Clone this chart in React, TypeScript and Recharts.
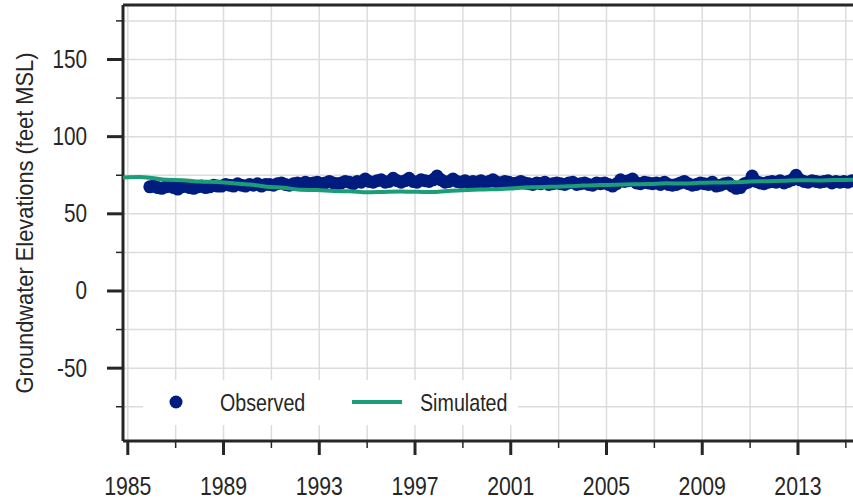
import { CartesianGrid, ComposedChart, Line, LineChart, ReferenceLine, XAxis, YAxis } from 'recharts'

const OBS_START = 1985.92
const OBS_STEP = 1 / 6

// observed heads, six readings per year from late 1985
const observedValues = [
  67.5, 68, 67, 66.5, 67.5, 68,
  67, 66, 67.5, 68, 67, 66.5,
  67.5, 68, 67, 67.5, 68.5, 68,
  68, 69, 68.5, 68, 69.5, 68.5,
  68, 69, 68.5, 69.5, 68, 69,
  69, 68.5, 69.5, 70, 69, 68.5,
  69.5, 70, 69, 70.5, 69.5, 70,
  70.5, 69.5, 70, 71, 70, 69.5,
  70, 71, 70.5, 69.5, 71, 70.5,
  72.5, 71, 70.5, 71.5, 72, 70.5,
  71, 73, 71.5, 70.5, 71.5, 73,
  71, 70.5, 72, 71.5, 71, 72,
  74.5, 72, 70.5, 71, 72.5, 71,
  70.5, 71.5, 70, 71, 70.5, 71.5,
  70, 71, 72, 70.5, 70, 71,
  70.5, 69.5, 70, 71, 70, 69.5,
  69, 70, 69.5, 70.5, 69, 69.5,
  70, 69.5, 69, 70, 70.5, 69,
  69.5, 70, 69, 68.5, 70, 69.5,
  70, 69, 68, 69.5, 72, 71,
  71.5, 72.5, 70, 69.5, 70.5, 70,
  69.5, 70, 69, 70.5, 69, 68.5,
  69, 70, 71, 69.5, 68.5, 69,
  70, 69.5, 69, 70.5, 68, 68.5,
  69.5, 70, 68, 66.5, 67, 69.5,
  70.5, 74.5, 71, 70, 69.5, 70.5,
  71, 70.5, 71.5, 70, 71, 72,
  75, 72, 71, 70.5, 71.5, 71,
  70.5, 71, 71.5, 70, 71, 70.5,
  71, 70.5, 71.5, 71, 70.5, 71,
]

const simulatedYears = [
  1984.8, 1985.5, 1986, 1986.6, 1987.3, 1988, 1988.7, 1989.4, 1990.1, 1990.8, 1991.5,
  1992.2, 1992.9, 1993.6, 1994.3, 1995, 1995.7, 1996.4, 1997.1, 1997.8, 1998.5, 1999.2,
  1999.9, 2000.6, 2001.3, 2001.9, 2002.6, 2003.4, 2004, 2004.7, 2005.4, 2006.1, 2006.8,
  2007.5, 2008.2, 2008.9, 2009.6, 2010.3, 2011, 2011.7, 2012.4, 2013.1, 2013.8, 2014.5,
  2015.2, 2015.8,
]
const simulatedValues = [
  73.6, 73.8, 73.2, 72, 71.8, 70.9, 70.6, 69.8, 69, 67.6, 66.9,
  65.6, 65.4, 64.8, 64.6, 63.9, 64.2, 64.4, 64.3, 64.1, 65, 65.5,
  65.8, 66.1, 66.8, 67.2, 67.5, 67.8, 68.3, 68.6, 68.8, 69.1, 69.3,
  69.8, 69.6, 70.1, 70.3, 70.4, 70.9, 71.1, 71.4, 71.8, 71.6, 71.9,
  72, 72.1,
]

const yTicks = [-75, -50, -25, 0, 25, 50, 75, 100, 125, 150, 175]
const yLabelled = [-50, 0, 50, 100, 150]
const xTicks = [1985, 1987, 1989, 1991, 1993, 1995, 1997, 1999, 2001, 2003, 2005, 2007, 2009, 2011, 2013, 2015]
const xLabelled = [1985, 1989, 1993, 1997, 2001, 2005, 2009, 2013]
const X_DOMAIN = [1984.8, 2015.8]
const Y_MIN = -97.2
const Y_MAX = 185.3

const observed = observedValues.map((value, i) => ({ year: OBS_START + i * OBS_STEP, value }))
const simulated = simulatedYears.map((year, i) => ({ year, value: simulatedValues[i] }))

const FONT = '"Liberation Sans", Arial, sans-serif'
const INK = '#262626'
const OBS_COLOR = '#001c7f'
const SIM_COLOR = '#1b9e77'
// no narrow face installed, so squeeze the regular one
const NARROW = 0.83
const W = 865
const H = 501

const YTick = ({ x, y, payload }: any) => {
  const major = yLabelled.includes(payload.value)
  return (
    <g>
      <line x1={x} x2={x - (major ? 16 : 7)} y1={y} y2={y} stroke={INK} strokeWidth={major ? 3 : 1.5} />
      {major && (
        <text
          transform={`translate(${x - 36},${y + 8.5}) scale(${NARROW},1)`}
          textAnchor="end"
          fontSize={25}
          fill={INK}
          fontFamily={FONT}
        >
          {payload.value}
        </text>
      )}
    </g>
  )
}

const XTick = ({ x, y, payload }: any) => {
  const major = xLabelled.includes(payload.value)
  return (
    <g>
      <line x1={x} x2={x} y1={y} y2={y + (major ? 14 : 7)} stroke={INK} strokeWidth={major ? 3 : 1.5} />
      {major && (
        <text
          transform={`translate(${x},${y + 54}) scale(0.85,1)`}
          textAnchor="middle"
          fontSize={25}
          fill={INK}
          fontFamily={FONT}
        >
          {payload.value}
        </text>
      )}
    </g>
  )
}

const LegendBox = () => (
  <svg width={375} height={45} style={{ position: 'absolute', left: 143, top: 380 }}>
    <rect x={0} y={0} width={375} height={45} fill="#ffffff" />
    <circle cx={33} cy={22} r={6.5} fill={OBS_COLOR} />
    <text transform={`translate(77,31) scale(0.82,1)`} fontSize={24} fill={INK} fontFamily={FONT}>
      Observed
    </text>
    <line x1={209} x2={259} y1={22} y2={22} stroke={SIM_COLOR} strokeWidth={4} />
    <text transform={`translate(277,31) scale(0.82,1)`} fontSize={24} fill={INK} fontFamily={FONT}>
      Simulated
    </text>
  </svg>
)

const App = () => {
  return (
    <div style={{ position: 'fixed', left: 0, top: 0, width: 853, height: 501, overflow: 'hidden', background: '#ffffff' }}>
      <div style={{ position: 'absolute', left: 0, top: 0 }}>
        <ComposedChart width={W} height={H} margin={{ top: 5, right: 0, bottom: 0, left: 0 }}>
          <CartesianGrid stroke="#dcdcdc" strokeWidth={1.5} />
          <XAxis
            dataKey="year"
            type="number"
            domain={X_DOMAIN}
            ticks={xTicks}
            height={60}
            tickSize={0}
            tickMargin={0}
            tickLine={false}
            tick={<XTick />}
            axisLine={{ stroke: INK, strokeWidth: 3 }}
            allowDataOverflow
            interval={0}
          />
          <YAxis
            dataKey="value"
            type="number"
            domain={[Y_MIN, Y_MAX]}
            ticks={yTicks}
            width={123}
            tickSize={0}
            tickMargin={0}
            tickLine={false}
            tick={<YTick />}
            axisLine={{ stroke: INK, strokeWidth: 3 }}
            allowDataOverflow
            interval={0}
            label={({ viewBox }: any) => (
              <text
                x={0}
                y={0}
                transform={`translate(33,${viewBox.y + viewBox.height / 2}) rotate(-90)`}
                textAnchor="middle"
                fontSize={24}
                fill={INK}
                fontFamily={FONT}
                textLength={341}
                lengthAdjust="spacingAndGlyphs"
              >
                Groundwater Elevations (feet MSL)
              </text>
            )}
          />
          <ReferenceLine y={Y_MAX} stroke={INK} strokeWidth={3} ifOverflow="visible" />
          <Line
            name="Observed"
            data={observed}
            dataKey="value"
            stroke="none"
            dot={(p: any) => <circle key={p.index} cx={p.cx} cy={p.cy} r={6.5} fill={OBS_COLOR} />}
            activeDot={false}
            isAnimationActive={false}
          />
        </ComposedChart>
      </div>
      {/* simulated line on its own layer so it sits over the observed dots */}
      <div style={{ position: 'absolute', left: 0, top: 0 }}>
        <LineChart width={W} height={H} margin={{ top: 5, right: 0, bottom: 60, left: 123 }}>
          <XAxis dataKey="year" type="number" domain={X_DOMAIN} hide allowDataOverflow />
          <YAxis type="number" domain={[Y_MIN, Y_MAX]} hide allowDataOverflow />
          <Line
            name="Simulated"
            data={simulated}
            dataKey="value"
            type="monotone"
            stroke={SIM_COLOR}
            strokeWidth={4}
            dot={false}
            activeDot={false}
            isAnimationActive={false}
          />
        </LineChart>
      </div>
      <LegendBox />
    </div>
  )
}

export default App
